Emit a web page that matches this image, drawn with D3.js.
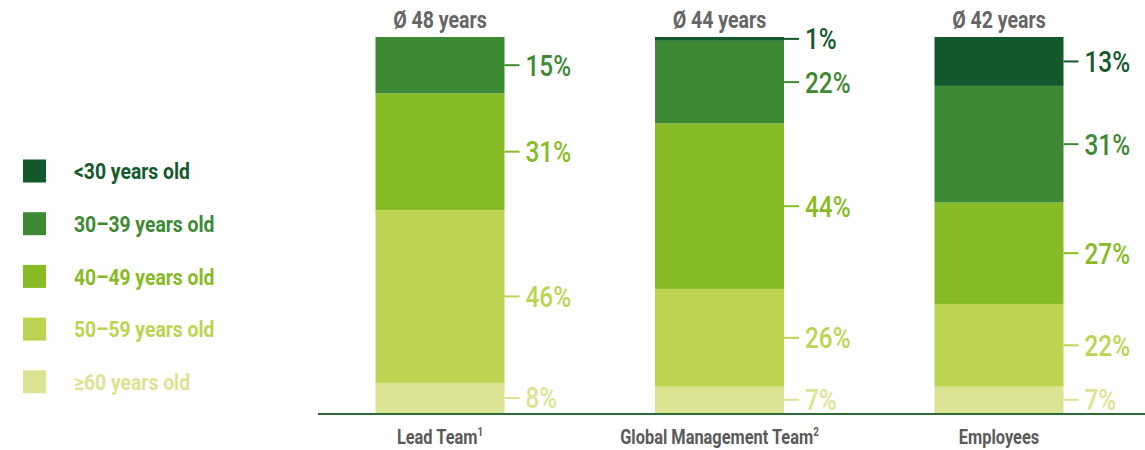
<!DOCTYPE html>
<html lang="en">
<head>
    <meta charset="UTF-8">
    <title>Age structure</title>
    <style>
        body {
            margin: 0;
            background: #fff;
        }
        svg text {
            font-family: Roboto, "Liberation Sans", sans-serif;
        }
    </style>
</head>
<body>
    <svg id="chart" width="1145" height="450"></svg>

    <script src="https://d3js.org/d3.v7.min.js"></script>
    <script>
        // data
        const groups = ["Lead Team", "Global Management Team", "Employees"];
        const groupNotes = ["1", "2", ""];
        const averages = ["Ø 48 years", "Ø 44 years", "Ø 42 years"];
        const ageBands = ["<30 years old", "30–39 years old", "40–49 years old", "50–59 years old", "≥60 years old"];
        // shares per age band, in the order of groups
        const under30 = [0, 1, 13];
        const from30 = [15, 22, 31];
        const from40 = [31, 44, 27];
        const from50 = [46, 26, 22];
        const over60 = [8, 7, 7];
        const colors = ["#14592b", "#3e8934", "#87bb26", "#bdd352", "#dce392"];

        const svg = d3.select("#chart");
        const squeeze = 0.82; // narrow type like the original condensed face

        const x = d3.scalePoint().domain(groups).range([440, 999]);
        const y = d3.scaleLinear().domain([0, 100]).range([413, 37]);
        const barW = 129;

        const series = [under30, from30, from40, from50, over60];
        // stack from the bottom: oldest first
        const rows = groups.map((g, i) => {
            const r = { group: g };
            ageBands.forEach((b, k) => r[b] = series[k][i]);
            return r;
        });
        const stack = d3.stack().keys(ageBands.slice().reverse());
        const layers = stack(rows);

        const colorOf = d3.scaleOrdinal().domain(ageBands).range(colors);

        layers.forEach(layer => {
            svg.append("g")
                .selectAll("rect")
                .data(layer)
                .enter()
                .filter(d => d[1] - d[0] > 0)
                .append("rect")
                .attr("x", d => x(d.data.group) - barW / 2)
                .attr("y", d => y(d[1]))
                .attr("width", barW)
                .attr("height", d => y(d[0]) - y(d[1]))
                .attr("fill", colorOf(layer.key));

            // tick + percentage label beside each segment
            const lab = svg.append("g")
                .selectAll("g")
                .data(layer.filter(d => d[1] - d[0] > 0))
                .enter()
                .append("g")
                .attr("transform", d => `translate(${x(d.data.group) + barW / 2},${y((d[0] + d[1]) / 2)})`);
            lab.append("line")
                .attr("x1", 0).attr("x2", 15)
                .attr("stroke", colorOf(layer.key))
                .attr("stroke-width", 2);
            lab.append("text")
                .attr("transform", `translate(21,0) scale(0.84,1)`)
                .attr("dy", "0.36em")
                .attr("font-size", 29)
                .attr("font-weight", 500)
                .attr("fill", colorOf(layer.key))
                .text(d => (d[1] - d[0]) + "%");
        });

        // baseline
        svg.append("line")
            .attr("x1", 318).attr("x2", 1145)
            .attr("y1", y(0) + 1).attr("y2", y(0) + 1)
            .attr("stroke", "#2b6a37")
            .attr("stroke-width", 2);

        // averages above bars
        svg.append("g")
            .selectAll("text")
            .data(groups)
            .enter()
            .append("text")
            .attr("transform", d => `translate(${x(d)},28) scale(0.85,1)`)
            .attr("text-anchor", "middle")
            .attr("font-size", 23)
            .attr("font-weight", 700)
            .attr("fill", "#666")
            .text((d, i) => averages[i]);

        // category labels
        const cat = svg.append("g")
            .selectAll("text")
            .data(groups)
            .enter()
            .append("text")
            .attr("transform", d => `translate(${x(d)},444) scale(${squeeze},1)`)
            .attr("text-anchor", "middle")
            .attr("font-size", 20)
            .attr("font-weight", 700)
            .attr("fill", "#5a5a5a");
        cat.append("tspan").text(d => d);
        cat.append("tspan")
            .attr("font-size", 12)
            .attr("dy", -8)
            .text((d, i) => groupNotes[i]);

        // legend
        const legend = svg.append("g")
            .selectAll("g")
            .data(ageBands)
            .enter()
            .append("g")
            .attr("transform", (d, i) => `translate(23,${171 + i * 52.7})`);
        legend.append("rect")
            .attr("y", -11.5)
            .attr("width", 23)
            .attr("height", 23)
            .attr("fill", d => colorOf(d));
        legend.append("text")
            .attr("transform", `translate(51,0) scale(0.86,1)`)
            .attr("dy", "0.36em")
            .attr("font-size", 22.5)
            .attr("font-weight", 700)
            .attr("fill", d => colorOf(d))
            .text(d => d);
    </script>
</body>
</html>
